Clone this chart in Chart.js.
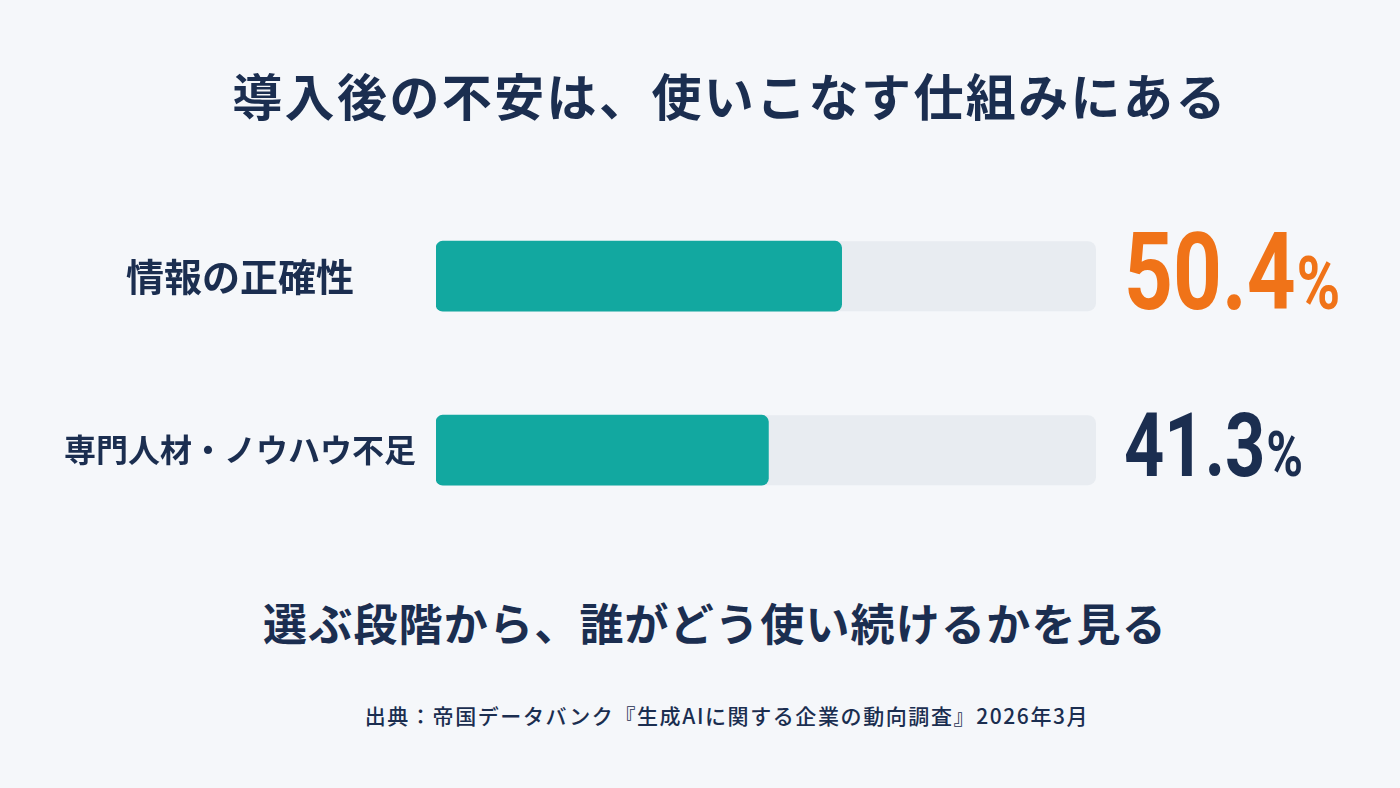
<!DOCTYPE html>
<html lang="ja">
<head>
<meta charset="utf-8">
<script src="https://cdn.jsdelivr.net/npm/chart.js@4.4.1/dist/chart.umd.min.js"></script>
<style>
	html, body { margin: 0; padding: 0; }
	body {
		width: 1400px; height: 788px; overflow: hidden; position: relative;
		background: #f5f7fa;
		font-family: "Noto Sans CJK JP", "Noto Sans", sans-serif;
		color: #1b2e50;
	}
	.txt { position: absolute; left: 0; width: 1400px; text-align: center; line-height: 1; white-space: nowrap; box-sizing: border-box; }
	#title { top: 69px; font-size: 50px; font-weight: 700; letter-spacing: 2.4px; padding-left: 60px; }
	#message { top: 600px; font-size: 44px; font-weight: 700; letter-spacing: 1.2px; padding-left: 30px; }
	#source { top: 705px; font-size: 21px; font-weight: 500; letter-spacing: 1.6px; padding-left: 54px; }
	#chart-wrap { position: absolute; left: 0; top: 150px; width: 1400px; height: 430px; }
</style>
</head>
<body>
<div id="title" class="txt">導入後の不安は、使いこなす仕組みにある</div>
<div id="chart-wrap"><canvas id="bars"></canvas></div>
<div id="message" class="txt">選ぶ段階から、誰がどう使い続けるかを見る</div>
<div id="source" class="txt">出典：帝国データバンク『生成AIに関する企業の動向調査』2026年3月</div>
<script>
// data
const categories = ['情報の正確性', '専門人材・ノウハウ不足'];
const values = [50.4, 41.3];
const axisMax = 82;

const navy = '#1b2e50';

/** grey track behind each bar, drawn from the x scale **/
const trackPlugin = {
	id: 'track',
	beforeDatasetsDraw(chart) {
		const ctx = chart.ctx, x = chart.scales.x;
		const left = x.getPixelForValue(0), right = x.getPixelForValue(x.max);
		chart.getDatasetMeta(0).data.forEach(function(bar){
			ctx.save();
			ctx.fillStyle = '#e8ecf1';
			ctx.beginPath();
			ctx.roundRect(left, bar.y - bar.height / 2, right - left, bar.height, 8);
			ctx.fill();
			ctx.restore();
		});
	}
};

/** big percentage next to each track **/
const valuePlugin = {
	id: 'valueLabels',
	afterDatasetsDraw(chart, args, opts) {
		const ctx = chart.ctx;
		const x0 = chart.chartArea.right + 28;
		chart.getDatasetMeta(0).data.forEach(function(bar, i){
			const num = values[i].toFixed(1);
			const size = opts.sizes[i], pct = opts.pctSizes[i];
			const base = bar.y + size * 0.711 / 2 - 6;
			ctx.save();
			ctx.translate(x0, base);
			ctx.scale(opts.squeeze, 1);
			ctx.fillStyle = opts.colors[i];
			ctx.textBaseline = 'alphabetic';
			ctx.textAlign = 'left';
			ctx.font = 'bold ' + size + 'px Roboto';
			ctx.fillText(num, 0, 0);
			const w = ctx.measureText(num).width;
			ctx.font = 'bold ' + pct + 'px Roboto';
			ctx.fillText('%', w + 1, 0);
			ctx.restore();
		});
	}
};

new Chart(document.getElementById('bars'), {
	type: 'bar',
	data: {
		labels: categories,
		datasets: [{
			data: values,
			backgroundColor: '#12a8a0',
			borderRadius: 7,
			borderSkipped: false,
			barThickness: 70
		}]
	},
	options: {
		indexAxis: 'y',
		responsive: true,
		maintainAspectRatio: false,
		animation: false,
		layout: { padding: { left: 44, right: 304, top: 19, bottom: 23 } },
		scales: {
			x: { min: 0, max: axisMax, display: false },
			y: {
				grid: { display: false, drawTicks: false },
				border: { display: false },
				ticks: {
					color: navy,
					crossAlign: 'center',
					padding: 20,
					font: function(c){
						return { family: '"Noto Sans CJK JP"', size: c.index === 0 ? 38 : 32, weight: 'bold' };
					}
				}
			}
		},
		plugins: {
			legend: { display: false },
			tooltip: { enabled: false },
			valueLabels: {
				sizes: [108, 89],
				pctSizes: [75, 63],
				colors: ['#f07318', navy],
				squeeze: 0.79
			}
		}
	},
	plugins: [trackPlugin, valuePlugin]
});
</script>
</body>
</html>
